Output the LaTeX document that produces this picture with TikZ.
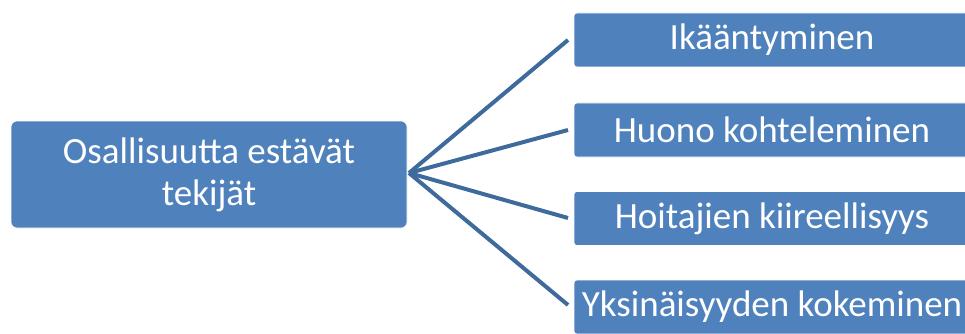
\documentclass[tikz,border=0pt]{standalone}
\usepackage{fontspec}
\setmainfont{Carlito}
\definecolor{boxblue}{HTML}{4F81BD}
\definecolor{lineblue}{HTML}{3F6A9C}
\begin{document}
\begin{tikzpicture}[x=1pt,y=-1pt,
  mainbox/.style={draw=white,line width=0.6pt,fill=boxblue,rounded corners=6pt,minimum width=396pt,minimum height=107pt,text=white,align=center,font=\fontsize{37}{42}\selectfont,inner sep=0pt},
  itembox/.style={draw=white,line width=0.6pt,fill=boxblue,rounded corners=3pt,minimum width=396pt,minimum height=54pt,text=white,font=\fontsize{37}{42}\selectfont,inner sep=0pt},
  conn/.style={draw=lineblue,line width=4pt}]
\useasboundingbox (0,0) rectangle (965,334);
\clip (0,0) rectangle (965,334);
\node[mainbox] (src) at (209,174.5) {Osallisuutta estävät\\tekijät};
\node[itembox] (r1) at (772,40) {Ikääntyminen};
\node[itembox] (r2) at (772,130) {Huono kohteleminen};
\node[itembox] (r3) at (772,218.5) {Hoitajien kiireellisyys};
\node[itembox] (r4) at (772,307) {Yksinäisyyden kokeminen};
\coordinate (hub) at (409,173);
\coordinate (e1) at (568,40);
\coordinate (e2) at (568,130);
\coordinate (e3) at (568,218);
\coordinate (e4) at (568,305);
\draw[conn] (hub) -- (e1);
\draw[conn] (hub) -- (e2);
\draw[conn] (hub) -- (e3);
\draw[conn] (hub) -- (e4);
\end{tikzpicture}
\end{document}
